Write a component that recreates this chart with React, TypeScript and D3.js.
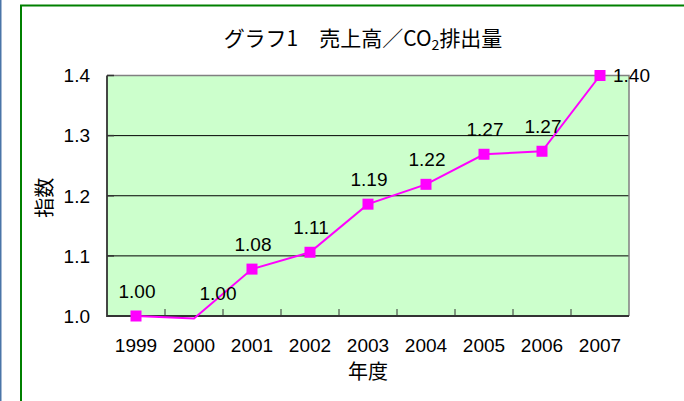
import * as d3 from "d3";
import React from "react";
import { useEffect, RefObject } from "react";

const years = ["1999", "2000", "2001", "2002", "2003", "2004", "2005", "2006", "2007"];
const indexValues = [1.0, 0.996, 1.078, 1.106, 1.186, 1.219, 1.269, 1.274, 1.4];
const yTicks = [1.0, 1.1, 1.2, 1.3, 1.4];

const numFont = "'Liberation Sans', Arial, 'Noto Sans CJK JP', sans-serif";
const jpFont = "'Noto Sans CJK JP', 'Liberation Sans', sans-serif";

function drawChart(svgRef: RefObject<SVGSVGElement>) {
    const width = 684;
    const height = 401;
    const plot = { left: 107, right: 629, top: 75.5, bottom: 316 };

    let svg = d3.select(svgRef.current)
        .attr("width", width)
        .attr("height", height)
        .attr("viewBox", "0 0 " + width + " " + height);

    svg.selectAll("*").remove();

    // page background and frames
    svg.append("rect").attr("width", width).attr("height", height).attr("fill", "#ffffff");
    svg.append("line")
        .attr("x1", 0.75).attr("x2", 0.75).attr("y1", 0).attr("y2", height)
        .attr("stroke", "#4a75a8").attr("stroke-width", 1.5);
    svg.append("path")
        .attr("d", `M21,${height} V5.5 H${width}`)
        .attr("fill", "none")
        .attr("stroke", "#008000")
        .attr("stroke-width", 2);

    let x = d3.scaleBand()
        .domain(years)
        .range([plot.left, plot.right])
        .padding(0);

    let y = d3.scaleLinear()
        .domain([yTicks[0], yTicks[yTicks.length - 1]])
        .range([plot.bottom, plot.top]);

    const cx = (i: number) => (x(years[i]) || 0) + x.bandwidth() / 2;

    // plot area
    svg.append("rect")
        .attr("x", plot.left).attr("y", plot.top)
        .attr("width", plot.right - plot.left)
        .attr("height", plot.bottom - plot.top)
        .attr("fill", "#ccffcc");

    // gridlines
    svg.selectAll(".grid")
        .data(yTicks.slice(1, -1))
        .enter().append("line")
        .attr("class", "grid")
        .attr("x1", plot.left).attr("x2", plot.right)
        .attr("y1", (d: number) => y(d)).attr("y2", (d: number) => y(d))
        .attr("stroke", "#000000").attr("stroke-width", 1);

    // top and right border
    svg.append("path")
        .attr("d", `M${plot.left},${plot.top} H${plot.right} V${plot.bottom}`)
        .attr("fill", "none")
        .attr("stroke", "#808080")
        .attr("stroke-width", 1.5);

    // y ticks (inside)
    svg.selectAll(".ytick")
        .data(yTicks)
        .enter().append("line")
        .attr("class", "ytick")
        .attr("x1", plot.left).attr("x2", plot.left + 7)
        .attr("y1", (d: number) => y(d)).attr("y2", (d: number) => y(d))
        .attr("stroke", "#333333").attr("stroke-width", 1.5);

    // x ticks (inside) at category boundaries
    svg.selectAll(".xtick")
        .data(years.slice(1))
        .enter().append("line")
        .attr("class", "xtick")
        .attr("x1", (d: string) => x(d) || 0).attr("x2", (d: string) => x(d) || 0)
        .attr("y1", plot.bottom).attr("y2", plot.bottom - 7)
        .attr("stroke", "#333333").attr("stroke-width", 1);

    // axis lines
    svg.append("path")
        .attr("d", `M${plot.left},${plot.top} V${plot.bottom} H${plot.right}`)
        .attr("fill", "none")
        .attr("stroke", "#333333")
        .attr("stroke-width", 1.8);

    // y tick labels
    svg.selectAll(".ylabel")
        .data(yTicks)
        .enter().append("text")
        .attr("class", "ylabel")
        .attr("x", plot.left - 17)
        .attr("y", (d: number) => y(d))
        .attr("dy", "0.36em")
        .attr("text-anchor", "end")
        .style("font", `19px ${numFont}`)
        .text((d: number) => d3.format(".1f")(d));

    // x tick labels
    svg.selectAll(".xlabel")
        .data(years)
        .enter().append("text")
        .attr("class", "xlabel")
        .attr("x", (d: string, i: number) => cx(i))
        .attr("y", 345)
        .attr("dy", "0.36em")
        .attr("text-anchor", "middle")
        .style("font", `19px ${numFont}`)
        .text((d: string) => d);

    // axis titles
    svg.append("text")
        .attr("x", (plot.left + plot.right) / 2)
        .attr("y", 372)
        .attr("dy", "0.36em")
        .attr("text-anchor", "middle")
        .style("font", `20px ${jpFont}`)
        .text("年度");

    svg.append("text")
        .attr("transform", `translate(45,${(plot.top + plot.bottom) / 2 + 2}) rotate(-90)`)
        .attr("dy", "0.36em")
        .attr("text-anchor", "middle")
        .style("font", `20px ${jpFont}`)
        .text("指数");

    // title
    const title = svg.append("text")
        .attr("x", 363)
        .attr("y", 38)
        .attr("dy", "0.36em")
        .attr("text-anchor", "middle")
        .style("font", `21px ${jpFont}`);
    title.append("tspan").text("グラフ1\u3000売上高／CO");
    title.append("tspan").attr("dy", 4).style("font-size", "14px").text("2");
    title.append("tspan").attr("dy", -4).text("排出量");

    // series line
    const line = d3.line<number>()
        .x((d: number, i: number) => cx(i))
        .y((d: number) => y(d));

    svg.append("path")
        .datum(indexValues)
        .attr("d", line)
        .attr("fill", "none")
        .attr("stroke", "#ff00ff")
        .attr("stroke-width", 2);

    // markers (hidden when outside the plot range)
    const ms = 11;
    svg.selectAll(".marker")
        .data(indexValues)
        .enter().append("rect")
        .attr("class", "marker")
        .attr("x", (d: number, i: number) => cx(i) - ms / 2)
        .attr("y", (d: number) => y(d) - ms / 2)
        .attr("width", ms).attr("height", ms)
        .attr("fill", "#ff00ff")
        .attr("display", (d: number) => (d < y.domain()[0] ? "none" : null));

    // data labels
    const last = indexValues.length - 1;
    svg.selectAll(".vlabel")
        .data(indexValues)
        .enter().append("text")
        .attr("class", "vlabel")
        .attr("x", (d: number, i: number) => i === last ? cx(i) + 13 : cx(i) + (i === 1 ? 24 : 1))
        .attr("y", (d: number, i: number) => i === last ? y(d) : y(d) - 25)
        .attr("dy", "0.36em")
        .attr("text-anchor", (d: number, i: number) => i === last ? "start" : "middle")
        .style("font", `19px ${numFont}`)
        .text((d: number) => d3.format(".2f")(d));
}

export default function App() {
    const svg = React.useRef<SVGSVGElement>(null);
    useEffect(() => {
        drawChart(svg);
    });

    return (
        <div style={{ position: "absolute", left: 0, top: 0, width: 684, height: 401, overflow: "hidden" }}>
            <svg ref={svg} style={{ display: "block" }}></svg>
        </div>
    );
}
